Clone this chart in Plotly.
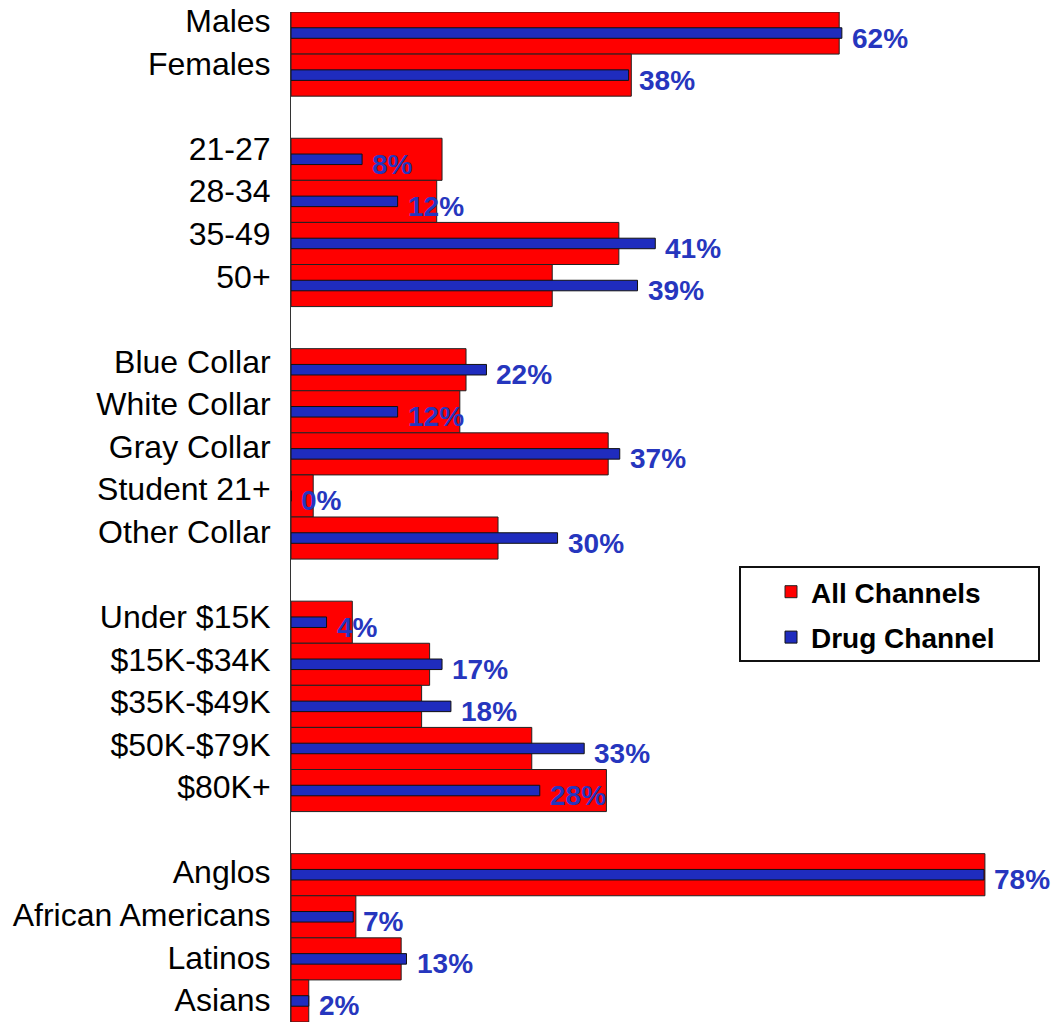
import plotly.graph_objects as go

# Demographic groups, top to bottom
groups = [
    ["Males", "Females"],
    ["21-27", "28-34", "35-49", "50+"],
    ["Blue Collar", "White Collar", "Gray Collar", "Student 21+", "Other Collar"],
    ["Under $15K", "$15K-$34K", "$35K-$49K", "$50K-$79K", "$80K+"],
    ["Anglos", "African Americans", "Latinos", "Asians"],
]
all_channels = [61.7, 38.3,
                17.0, 16.4, 36.9, 29.4,
                19.7, 19.0, 35.7, 2.5, 23.3,
                6.9, 15.6, 14.7, 27.1, 35.5,
                78.1, 7.3, 12.4, 2.0]
drug_channel = [62, 38,
                8, 12, 41, 39,
                22, 12, 37, 0, 30,
                4, 17, 18, 33, 28,
                78, 7, 13, 2]

RED = "#FF0000"
BLUE = "#1F2CBE"
LABEL_BLUE = "#2636BE"
FONT = "Liberation Sans, Arial, sans-serif"

# One slot per category, with an empty slot between groups
categories, ypos = [], []
slot = 0
for g in groups:
    for c in g:
        categories.append(c)
        ypos.append(slot)
        slot += 1
    slot += 1
last = ypos[-1]

# Category labels sit a little above their bars, drifting to centred at the bottom
label_pos = [p - (12 - 11 * p / last) / 42.1 for p in ypos]

fig = go.Figure()
fig.add_trace(go.Bar(
    name="All Channels", orientation="h", legendgroup="all",
    x=all_channels, y=ypos, width=1.0,
    marker=dict(color=RED, line=dict(color="#222222", width=1)),
))
fig.add_trace(go.Bar(
    name="Drug Channel", orientation="h", legendgroup="drug",
    x=drug_channel, y=ypos, width=0.25,
    marker=dict(color=BLUE, line=dict(color="#111111", width=1)),
))

for v, p in zip(drug_channel, ypos):
    fig.add_annotation(
        x=v, y=p, text=f"<b>{v}%</b>", showarrow=False,
        xanchor="left", yanchor="middle", xshift=8, yshift=-5,
        font=dict(family=FONT, size=28, color=LABEL_BLUE),
    )

# Legend frame
fig.add_shape(type="rect", xref="paper", yref="paper",
              x0=(740 - 291) / 761, x1=(1039 - 291) / 761,
              y0=1 - (661 - 12) / 1010, y1=1 - (567 - 12) / 1010,
              line=dict(color="#111111", width=2), fillcolor="white", layer="below")

fig.update_layout(
    width=1052, height=1022,
    margin=dict(l=291, r=0, t=12, b=0),
    paper_bgcolor="white", plot_bgcolor="white",
    barmode="overlay",
    showlegend=True,
    legend=dict(
        x=(771 - 291) / 761, xanchor="left",
        y=1 - (567 - 12) / 1010, yanchor="top",
        bgcolor="rgba(0,0,0,0)", borderwidth=0,
        font=dict(family=FONT, size=28, color="black", weight="bold"),
        tracegroupgap=6,
    ),
    xaxis=dict(range=[0, 761 / 8.885], visible=False, fixedrange=True),
    yaxis=dict(
        range=[last + 0.5, -0.5],
        tickvals=label_pos, ticktext=categories,
        tickfont=dict(family=FONT, size=32, color="black"),
        ticks="", ticklabelstandoff=13,
        showline=True, linecolor="#333333", linewidth=1,
        showgrid=False, zeroline=False,
    ),
)

fig.write_html("out.html")
